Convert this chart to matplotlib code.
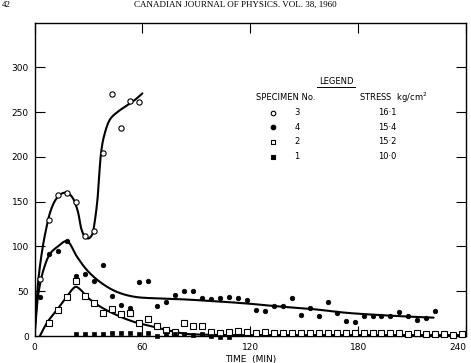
import numpy as np
import matplotlib
matplotlib.use("Agg")
import matplotlib.pyplot as plt

# ---------------- data ----------------
x_ticks = [0, 60, 120, 180, 240]
x_tick_labels = ["0", "60", "120", "180", "240"]
y_ticks = [0, 50, 100, 150, 200, 250, 300]

# Specimen 3 (open circles, 16.1 kg/cm2)
s3_t = [3, 8, 13, 18, 23, 28, 33, 38, 43, 48, 53, 58]
s3_v = [64, 130, 157, 160, 150, 112, 117, 204, 270, 232, 262, 261]
c3_t = [0, 1, 2, 4, 6, 9, 12, 15, 18, 21, 24, 26, 28, 30, 32, 33.5, 35, 36, 37, 38.5, 42, 46, 51, 56, 60]
c3_v = [0, 30, 60, 92, 115, 140, 153, 159, 160, 155, 140, 120, 111, 109, 113, 128, 152, 180, 204, 222, 242, 250, 257, 264, 271]

# Specimen 4 (filled circles, 15.4 kg/cm2)
s4_t = [3, 8, 13, 18, 23, 28, 33, 38, 43, 48, 53, 58, 63, 68, 73, 78, 83, 88, 93, 98,
        103, 108, 113, 118, 123, 128, 133, 138, 143, 148, 153, 158, 163, 168, 173, 178,
        183, 188, 193, 198, 203, 208, 213, 218, 223]
s4_v = [44, 92, 95, 106, 67, 69, 62, 79, 45, 35, 31, 60, 62, 34, 38, 46, 50, 50, 43, 41,
        42, 44, 43, 40, 29, 28, 33, 34, 42, 24, 31, 22, 38, 26, 17, 16,
        22, 22, 22, 22, 27, 22, 18, 20, 28]
c4_t = [0, 1, 2.2, 5, 8.7, 13, 18, 23.5, 29, 36, 45, 55, 68, 82, 95, 117, 136, 155, 173, 191, 210, 222]
c4_v = [0, 25, 48, 74, 92, 100, 106, 89, 74, 61, 50, 44, 42, 41, 39.5, 36.5, 33, 30, 26, 23.5, 21.5, 20.5]

# Specimen 2 (open squares, 15.2 kg/cm2)
s2_t = [8, 13, 18, 23, 28, 33, 38, 43, 48, 53, 58, 63, 68, 73, 78, 83, 88, 93, 98, 103,
        108, 113, 118, 123, 128, 133, 138, 143, 148, 153, 158, 163, 168, 173, 178, 183,
        188, 193, 198, 203, 208, 213, 218, 223, 228, 233, 238]
s2_v = [15, 29, 44, 62, 45, 37, 26, 30, 25, 26, 15, 19, 11, 7, 5, 14, 11, 11, 5, 3,
        5, 6, 4, 3, 5, 3, 3, 3, 3, 3, 3, 3, 3, 3, 3, 3.5,
        3, 3, 3, 3, 2, 3, 2, 2, 2, 1.5, 2]
c2_t = [3, 7, 12.4, 18, 21, 23, 26, 29, 36.4, 45.6, 55, 66, 75, 84, 94, 110, 140, 180, 210, 238]
c2_v = [0, 15, 29, 44, 52, 55, 51, 44, 33, 23.5, 16, 10.4, 6, 2.5, 1.5, 1, 1, 1, 1, 1]

# Specimen 1 (filled squares, 10.0 kg/cm2)
s1_t = [23, 28, 33, 38, 43, 48, 53, 58, 63, 68, 73, 78, 83, 88, 93, 98, 103, 108]
s1_v = [2.5, 2.5, 2.5, 2.5, 3, 3, 3, 2.5, 3, 0.5, 2.5, 2, 2.5, 1.5, 2, -0.5, -1, -1]

legend_specimen = ["3", "4", "2", "1"]
legend_stress = ["16·1", "15·4", "15·2", "10·0"]


def smooth(xs, ys, n=14, alpha=0.5):
    """Centripetal Catmull-Rom smoothing through hand-read curve knots."""
    P = np.column_stack([xs, ys]).astype(float)
    P = np.vstack([2 * P[0] - P[1], P, 2 * P[-1] - P[-2]])
    scale = np.array([1.8, 0.9])
    out = []
    for i in range(1, len(P) - 2):
        p0, p1, p2, p3 = P[i - 1], P[i], P[i + 1], P[i + 2]
        d01 = np.linalg.norm((p1 - p0) * scale) ** alpha + 1e-9
        d12 = np.linalg.norm((p2 - p1) * scale) ** alpha + 1e-9
        d23 = np.linalg.norm((p3 - p2) * scale) ** alpha + 1e-9
        t0, t1 = 0.0, d01
        t2 = t1 + d12
        t3 = t2 + d23
        t = np.linspace(t1, t2, n, endpoint=False)[:, None]
        A1 = (t1 - t) / (t1 - t0) * p0 + (t - t0) / (t1 - t0) * p1
        A2 = (t2 - t) / (t2 - t1) * p1 + (t - t1) / (t2 - t1) * p2
        A3 = (t3 - t) / (t3 - t2) * p2 + (t - t2) / (t3 - t2) * p3
        B1 = (t2 - t) / (t2 - t0) * A1 + (t - t0) / (t2 - t0) * A2
        B2 = (t3 - t) / (t3 - t1) * A2 + (t - t1) / (t3 - t1) * A3
        C = (t2 - t) / (t2 - t1) * B1 + (t - t1) / (t2 - t1) * B2
        out.append(C)
    out.append(P[-2][None, :])
    out = np.vstack(out)
    return out[:, 0], out[:, 1]


plt.rcParams['font.family'] = ['DejaVu Sans']
fig = plt.figure(figsize=(4.71, 3.63), dpi=100)
ax = fig.add_axes([34.5 / 471, 27 / 363, (466 - 34.5) / 471, (336 - 22.7) / 363])

lw = 1.5
for ct, cv in [(c3_t, c3_v), (c4_t, c4_v), (c2_t, c2_v)]:
    sx, sy = smooth(ct, cv)
    ax.plot(sx, sy, color="black", lw=lw, zorder=2, solid_capstyle="round")

ax.plot(s3_t, s3_v, "o", ms=3.8, mfc="white", mec="black", mew=0.8, zorder=3, clip_on=False)
ax.plot(s4_t, s4_v, "o", ms=3.3, mfc="black", mec="black", mew=0.5, zorder=3, clip_on=False)
ax.plot(s2_t, s2_v, "s", ms=3.8, mfc="white", mec="black", mew=0.8, zorder=3, clip_on=False)
ax.plot(s1_t, s1_v, "s", ms=3.3, mfc="black", mec="black", mew=0.5, zorder=3, clip_on=False)

ax.set_xlim(0, 240)
ax.set_ylim(0, 350)
ax.set_xticks(x_ticks)
ax.set_xticklabels(x_tick_labels)
ax.set_yticks(y_ticks)
ax.tick_params(direction="in", length=7, width=0.8, labelsize=6.5, pad=4,
               top=True, right=True, colors="black")
ax.tick_params(axis="x", pad=5)
# keep the last tick label inside the picture
ax.get_xticklabels()[-1].set_horizontalalignment("right")
for lab in ax.get_xticklabels():
    if lab.get_text() == "240":
        lab.set_horizontalalignment("right")
for sp in ax.spines.values():
    sp.set_linewidth(1.0)
ax.set_xlabel("TIME  (MIN)", fontsize=6.5, labelpad=2)

# legend block drawn as text
tf = dict(fontsize=6, color="black", transform=ax.transAxes)
def ax_xy(px, py):
    return ((px - 34.5) / (466 - 34.5), (336 - py) / (336 - 22.7))

lx, ly = ax_xy(336, 81)
ax.text(lx, ly, "LEGEND", ha="center", va="center", **tf)
ux0, uy = ax_xy(317, 87)
ux1, _ = ax_xy(355, 87)
ax.plot([ux0, ux1], [uy, uy], color="black", lw=0.7, transform=ax.transAxes)
hx, hy = ax_xy(286, 98)
ax.text(hx, hy, "SPECIMEN No.", ha="center", va="center", **tf)
sx_, sy_ = ax_xy(393, 98)
ax.text(sx_, sy_, "STRESS  kg/cm$^{2}$", ha="center", va="center", **tf)

row_py = [112.7, 127.3, 141.7, 156.5]
markers = [("o", "white"), ("o", "black"), ("s", "white"), ("s", "black")]
for (m, fc), spec, st, py in zip(markers, legend_specimen, legend_stress, row_py):
    mx, my = ax_xy(272.7, py)
    ax.plot([mx], [my], m, ms=3.3, mfc=fc, mec="black", mew=0.8, transform=ax.transAxes)
    nx, ny = ax_xy(297, py)
    ax.text(nx, ny, spec, ha="center", va="center", **tf)
    stx, sty = ax_xy(387, py)
    ax.text(stx, sty, st, ha="center", va="center", **tf)

# page header
fig.text(0.5, 1 - 1 / 363, "CANADIAN JOURNAL OF PHYSICS. VOL. 38, 1960",
         ha="center", va="top", fontsize=6.5, family="Liberation Serif")
fig.text(2 / 471, 1 - 1 / 363, "42", ha="left", va="top", fontsize=6.5,
         family="Liberation Serif")

fig.savefig("out.png", dpi=100)
